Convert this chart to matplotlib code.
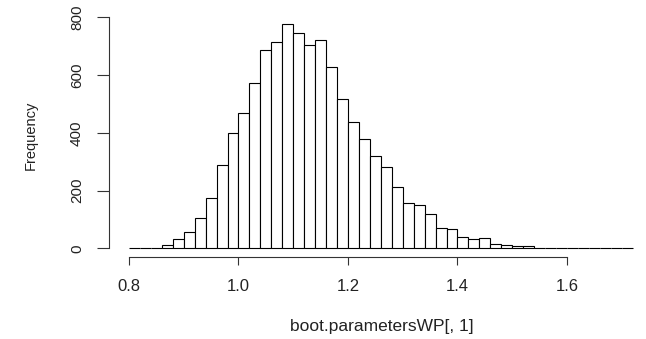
import matplotlib
matplotlib.use("Agg")
import matplotlib.pyplot as plt
import numpy as np

# Histogram of bootstrap estimates: bin left edges (width 0.02) and frequencies
bin_width = 0.02
bin_starts = [round(0.80 + i * bin_width, 2) for i in range(46)]
frequency = [0, 0, 2, 12, 31, 55, 106, 174, 288, 398,
             468, 572, 688, 716, 777, 747, 705, 722, 627, 518,
             438, 377, 319, 280, 212, 157, 149, 119, 70, 68,
             40, 31, 37, 16, 13, 8, 8, 0, 2, 0,
             2, 0, 0, 0, 0, 0]
x_ticks = [0.8, 1.0, 1.2, 1.4, 1.6]
y_ticks = [0, 200, 400, 600, 800]
x_label = "boot.parametersWP[, 1]"
y_label = "Frequency"

plt.rcParams["font.family"] = ["Liberation Sans", "DejaVu Sans"]

W, H = 646, 339
fig = plt.figure(figsize=(W / 100, H / 100), dpi=100)

# plot region in pixels (R-style 4% padding on both axes)
left_px, right_px = 108.85, 652.8
top_px, bottom_px = 15.0, 257.3
ax = fig.add_axes([left_px / W, (H - bottom_px) / H,
                   (right_px - left_px) / W, (bottom_px - top_px) / H])

ax.bar(bin_starts, frequency, width=bin_width, align="edge",
       facecolor="white", edgecolor="black", linewidth=0.8)

lo, hi = bin_starts[0], bin_starts[-1] + bin_width
pad_x = 0.04 * (hi - lo)
ax.set_xlim(lo - pad_x, hi + pad_x)
ymax = max(frequency)
ax.set_ylim(-0.04 * ymax, ymax * 1.04)

for s in ("top", "right"):
    ax.spines[s].set_visible(False)
ax.spines["left"].set_bounds(y_ticks[0], y_ticks[-1])
ax.spines["bottom"].set_bounds(x_ticks[0], x_ticks[-1])
for s in ("left", "bottom"):
    ax.spines[s].set_linewidth(0.8)
    ax.spines[s].set_color("#333333")

ax.set_xticks(x_ticks)
ax.set_xticklabels([f"{v:.1f}" for v in x_ticks])
ax.set_yticks(y_ticks)
ax.set_yticklabels([str(v) for v in y_ticks], rotation=90, va="center")
ax.tick_params(axis="x", direction="out", length=6, width=0.8,
               color="#333333", pad=9.5, labelsize=12, labelcolor="#222222")
ax.tick_params(axis="y", direction="out", length=8.4, width=0.8,
               color="#333333", pad=9.5, labelsize=11, labelcolor="#222222")

fig.text(382 / W, (H - 326) / H, x_label, ha="center", va="center",
         fontsize=12.5, color="#222222")
fig.text(31 / W, (H - 135) / H, y_label, ha="center", va="center",
         rotation=90, fontsize=10.5, color="#222222")

fig.savefig("out.png", dpi=100, facecolor="white")
